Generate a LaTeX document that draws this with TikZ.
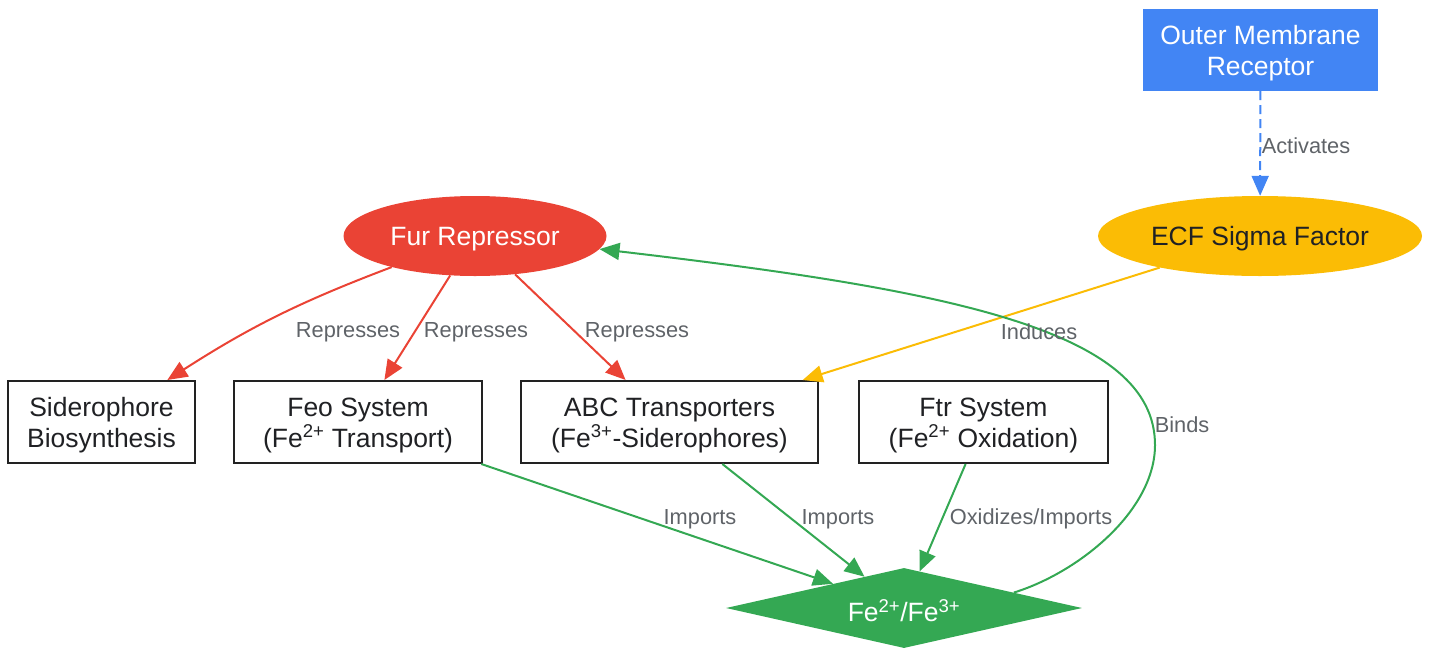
\documentclass[tikz,border=0pt]{standalone}
\usepackage{fontspec}
\setmainfont{Liberation Sans}
\usetikzlibrary{shapes.geometric,arrows.meta}
\definecolor{gblue}{HTML}{4285F4}
\definecolor{gyellow}{HTML}{FBBC05}
\definecolor{gred}{HTML}{EA4335}
\definecolor{ggreen}{HTML}{34A853}
\definecolor{lblgray}{HTML}{5F6368}
\definecolor{textdark}{HTML}{202124}
\definecolor{boxline}{HTML}{222222}
\begin{document}
\begin{tikzpicture}[x=1pt,y=-1pt,
  nodefont/.style={font=\fontsize{26.5}{31}\selectfont},
  txt/.style={inner sep=0pt, align=center, nodefont},
  box/.style={draw=boxline, line width=2pt, fill=white, minimum width=#1, minimum height=82pt, inner sep=0pt},
  oval/.style={ellipse, minimum width=#1, minimum height=80pt, inner sep=0pt},
  lbl/.style={font=\fontsize{21.8}{26}\selectfont, text=lblgray, inner sep=0pt},
  arr/.style={line width=2pt, -{Triangle[length=20pt,width=17pt]}},
]
\useasboundingbox (0,0) rectangle (1431,648);

% shapes
\node[rectangle, fill=gblue, minimum width=235pt, minimum height=82pt, inner sep=0pt] (rec) at (1260.5,50) {};
\node[oval=324pt, fill=gyellow] (ecf) at (1260,236) {};
\node[oval=263pt, fill=gred] (fur) at (475,236) {};
\node[box=187pt] (sid) at (101.5,422) {};
\node[box=248pt] (feo) at (358,422) {};
\node[box=297pt] (abc) at (669.5,422) {};
\node[box=249pt] (ftr) at (983.5,422) {};
\node[diamond, aspect=4.45, fill=ggreen, minimum width=356pt, minimum height=80pt, inner sep=0pt] (fe) at (904,608) {};

% texts in shapes
\node[txt, text=white] (rect) at ([yshift=-3pt]rec.center) {Outer Membrane\\Receptor};
\node[txt, text=textdark] (ecft) at ([yshift=-3pt]ecf.center) {ECF Sigma Factor};
\node[txt, text=white] (furt) at ([yshift=-3pt]fur.center) {Fur Repressor};
\node[txt, text=textdark] (sidt) at ([yshift=-3pt]sid.center) {Siderophore\\Biosynthesis};
\node[txt, text=textdark] (feot) at ([yshift=-3pt]feo.center) {Feo System\\(Fe\textsuperscript{2+} Transport)};
\node[txt, text=textdark] (abct) at ([yshift=-3pt]abc.center) {ABC Transporters\\(Fe\textsuperscript{3+}-Siderophores)};
\node[txt, text=textdark] (ftrt) at ([yshift=-3pt]ftr.center) {Ftr System\\(Fe\textsuperscript{2+} Oxidation)};
\node[txt, text=white] (fet) at ([yshift=-3pt]fe.center) {Fe\textsuperscript{2+}/Fe\textsuperscript{3+}};

% connectors
\draw[arr, gblue, dash pattern=on 9pt off 5pt] (rec) -- (ecf);
\draw[arr, gyellow] (ecf) -- (abc);
\draw[arr, gred] (fur) to[bend right=6] (sid);
\draw[arr, gred] (fur) -- (feo);
\draw[arr, gred] (fur) -- (abc);
\draw[arr, ggreen] (feo) -- (fe);
\draw[arr, ggreen] (abc) -- (fe);
\draw[arr, ggreen] (ftr) -- (fe);
\draw[arr, ggreen] (fe.8) .. controls (1080,572) and (1155,510) .. (1155,445)
   .. controls (1155,330) and (950,290) .. (fur.-6);

% labels
\node[lbl] (l1) at (1306,146) {Activates};
\node[lbl] (l2) at (1039,332) {Induces};
\node[lbl] (l3) at (348,332) {Represses};
\node[lbl] (l4) at (476,332) {Represses};
\node[lbl] (l5) at (637,332) {Represses};
\node[lbl] (l6) at (700,519) {Imports};
\node[lbl] (l7) at (838,519) {Imports};
\node[lbl] (l8) at (1031,519) {Oxidizes/Imports};
\node[lbl] (l9) at (1182,425) {Binds};
\end{tikzpicture}
\end{document}
